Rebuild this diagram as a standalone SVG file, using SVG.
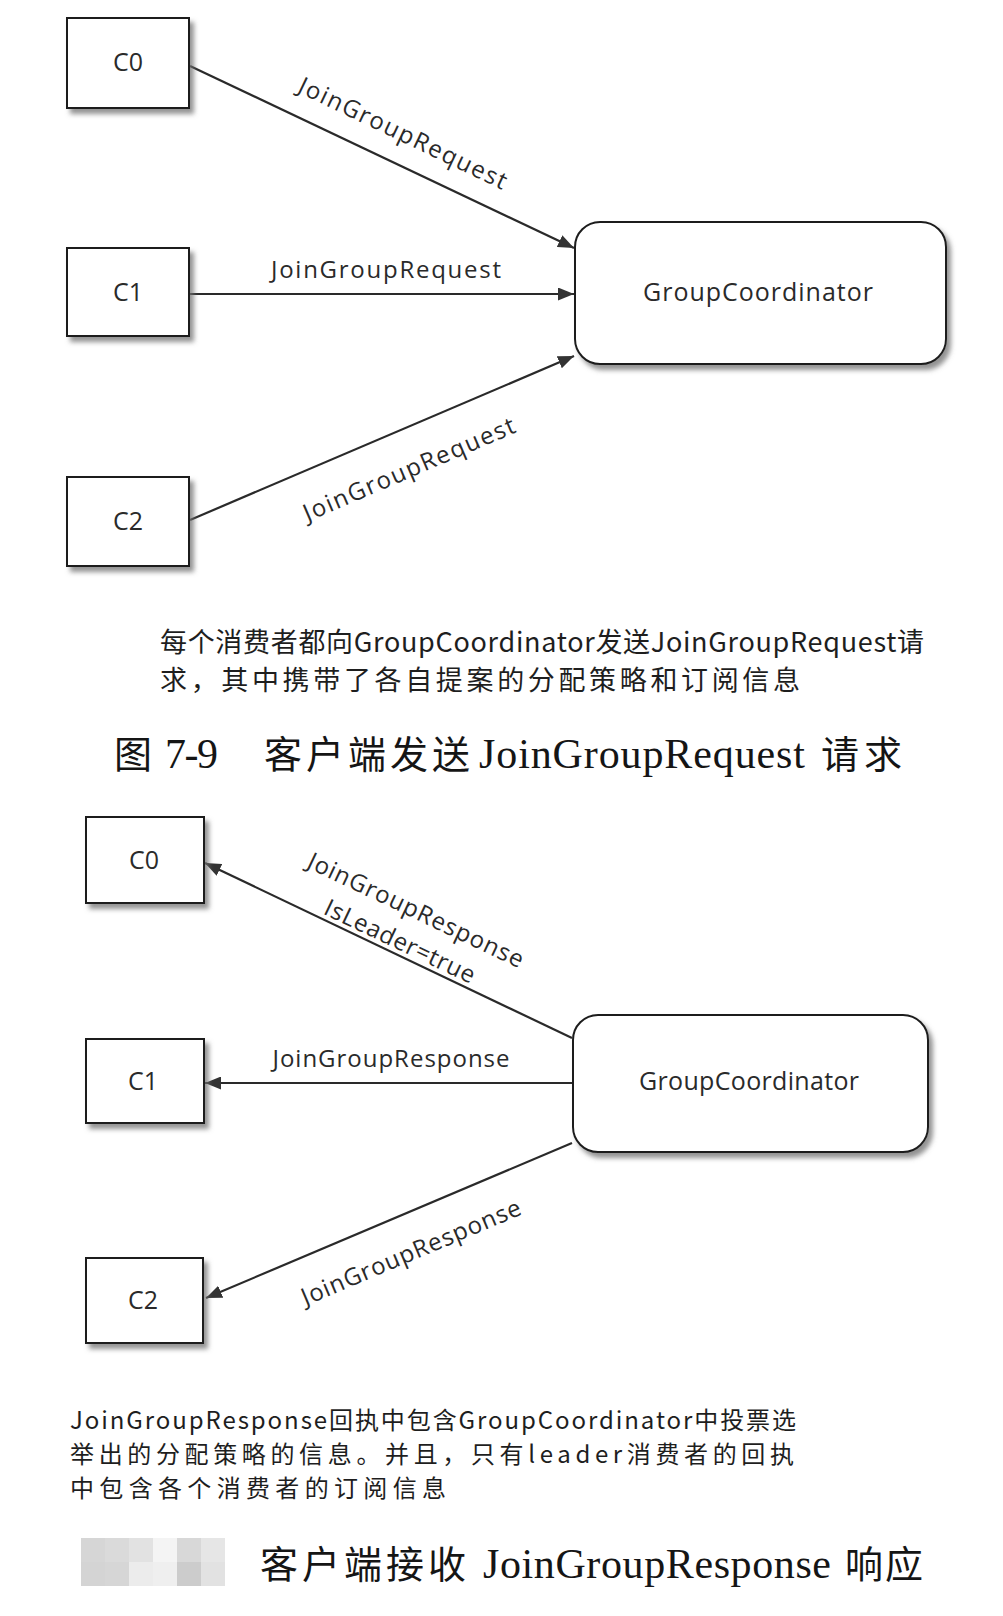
<svg xmlns="http://www.w3.org/2000/svg" width="1003" height="1616" viewBox="0 0 1003 1616">
  <style>
    .box { fill: #ffffff; stroke: #1e1e1e; stroke-width: 2; filter: url(#shadow); }
    .lbl { font-family: "Open Sans", "Liberation Sans", sans-serif; font-size: 24px; fill: #2a2a2a; }
    .nlbl { font-family: "Open Sans", "Liberation Sans", sans-serif; font-size: 25px; fill: #2a2a2a; text-anchor: middle; }
    .edge { stroke: #2a2a2a; stroke-width: 2.2; fill: none; marker-end: url(#arrow); }
    .cap { font-family: "Noto Sans CJK SC", "Open Sans", sans-serif; fill: #1e1e1e; }
    .ttl-cjk { font-family: "Noto Sans CJK SC", serif; font-size: 38px; fill: #151515; }
    .ttl-lat { font-family: "Liberation Serif", "Noto Sans CJK SC", serif; font-size: 42px; fill: #151515; }
  </style>
  <defs>
    <filter id="shadow" x="-10%" y="-10%" width="125%" height="130%">
      <feDropShadow dx="4" dy="5" stdDeviation="2.5" flood-color="#6e6e6e" flood-opacity="0.75"/>
    </filter>
    <marker id="arrow" markerUnits="userSpaceOnUse" markerWidth="17" markerHeight="13" refX="16" refY="6.5" orient="auto">
      <path d="M0,0 L16,6.5 L0,13 z" fill="#333333"/>
    </marker>
  </defs>
  <rect width="1003" height="1616" fill="#ffffff"/>

  <!-- Connectors -->
  <g id="connectors">
    <path class="edge" d="M190,66 L574,248"/>
    <path class="edge" d="M190,294 L574,294"/>
    <path class="edge" d="M190,520 L574,356"/>
    <path class="edge" d="M572,1038 L205,863"/>
    <path class="edge" d="M573,1083 L205,1083"/>
    <path class="edge" d="M572,1143 L206,1298"/>
  </g>

  <g id="edge-labels">
    <text class="lbl" text-anchor="middle" transform="translate(403,133) rotate(25.6)" y="8.5" textLength="228" lengthAdjust="spacing">JoinGroupRequest</text>
    <text class="lbl" text-anchor="middle" x="386" y="278" textLength="230" lengthAdjust="spacing">JoinGroupRequest</text>
    <text class="lbl" text-anchor="middle" transform="translate(409,469) rotate(-23.2)" y="8.5" textLength="228" lengthAdjust="spacing">JoinGroupRequest</text>
    <text class="lbl" text-anchor="middle" transform="translate(416,910) rotate(25.4)" y="8.5" textLength="236" lengthAdjust="spacing">JoinGroupResponse</text>
    <text class="lbl" text-anchor="middle" transform="translate(400,941) rotate(25.4)" y="8.5" textLength="164" lengthAdjust="spacing">IsLeader=true</text>
    <text class="lbl" text-anchor="middle" x="391" y="1067" textLength="237" lengthAdjust="spacing">JoinGroupResponse</text>
    <text class="lbl" text-anchor="middle" transform="translate(411,1252) rotate(-22.9)" y="8.5" textLength="236" lengthAdjust="spacing">JoinGroupResponse</text>
  </g>

  <!-- Top diagram nodes -->
  <g id="top-c0">
    <rect class="box" x="67" y="18" width="122" height="90"/>
    <text class="nlbl" x="128" y="71">C0</text>
  </g>
  <g id="top-c1">
    <rect class="box" x="67" y="248" width="122" height="88"/>
    <text class="nlbl" x="128" y="301">C1</text>
  </g>
  <g id="top-c2">
    <rect class="box" x="67" y="477" width="122" height="89"/>
    <text class="nlbl" x="128" y="530">C2</text>
  </g>
  <g id="top-gc">
    <rect class="box" x="575" y="222" width="371" height="142" rx="25" ry="25"/>
    <text class="nlbl" x="758" y="301" textLength="230" lengthAdjust="spacing">GroupCoordinator</text>
  </g>

  <g id="caption-1">
    <text class="cap" font-size="27" x="160" y="652" textLength="764" lengthAdjust="spacing">每个消费者都向GroupCoordinator发送JoinGroupRequest请</text>
    <text class="cap" font-size="27" x="160" y="690" textLength="640" lengthAdjust="spacing">求，其中携带了各自提案的分配策略和订阅信息</text>
  </g>

  <g id="title-1">
    <text class="ttl-cjk" x="114" y="768">图</text>
    <text class="ttl-lat" x="165" y="768" textLength="53" lengthAdjust="spacing">7-9</text>
    <text class="ttl-cjk" x="264" y="768" textLength="206" lengthAdjust="spacing">客户端发送</text>
    <text class="ttl-lat" x="479" y="768" textLength="326" lengthAdjust="spacing">JoinGroupRequest</text>
    <text class="ttl-cjk" x="821" y="768" textLength="81" lengthAdjust="spacing">请求</text>
  </g>

  <!-- Bottom diagram nodes -->
  <g id="bottom-c0">
    <rect class="box" x="86" y="817" width="118" height="86"/>
    <text class="nlbl" x="144" y="869">C0</text>
  </g>
  <g id="bottom-c1">
    <rect class="box" x="86" y="1039" width="118" height="84"/>
    <text class="nlbl" x="143" y="1090">C1</text>
  </g>
  <g id="bottom-c2">
    <rect class="box" x="86" y="1258" width="117" height="85"/>
    <text class="nlbl" x="143" y="1309">C2</text>
  </g>
  <g id="bottom-gc">
    <rect class="box" x="573" y="1015" width="355" height="137" rx="25" ry="25"/>
    <text class="nlbl" x="749" y="1090" textLength="220" lengthAdjust="spacing">GroupCoordinator</text>
  </g>

  <g id="caption-2">
    <text class="cap" font-size="24" x="70" y="1429" textLength="726" lengthAdjust="spacing">JoinGroupResponse回执中包含GroupCoordinator中投票选</text>
    <text class="cap" font-size="24" x="70" y="1463" textLength="724" lengthAdjust="spacing">举出的分配策略的信息。并且，只有leader消费者的回执</text>
    <text class="cap" font-size="24" x="70" y="1497" textLength="376" lengthAdjust="spacing">中包含各个消费者的订阅信息</text>
  </g>

  <g id="mosaic">
    <rect x="81" y="1538" width="24" height="24" fill="#d6d6d6"/>
    <rect x="105" y="1538" width="24" height="24" fill="#dadada"/>
    <rect x="129" y="1538" width="24" height="24" fill="#e2e2e2"/>
    <rect x="153" y="1538" width="24" height="24" fill="#f4f4f4"/>
    <rect x="177" y="1538" width="24" height="24" fill="#d8d8d8"/>
    <rect x="201" y="1538" width="24" height="24" fill="#e6e6e6"/>
    <rect x="81" y="1562" width="24" height="24" fill="#d4d4d4"/>
    <rect x="105" y="1562" width="24" height="24" fill="#d6d6d6"/>
    <rect x="129" y="1562" width="24" height="24" fill="#ececec"/>
    <rect x="153" y="1562" width="24" height="24" fill="#efefef"/>
    <rect x="177" y="1562" width="24" height="24" fill="#cccccc"/>
    <rect x="201" y="1562" width="24" height="24" fill="#e2e2e2"/>
  </g>

  <g id="title-2">
    <text class="ttl-cjk" x="260" y="1578" textLength="206" lengthAdjust="spacing">客户端接收</text>
    <text class="ttl-lat" x="483" y="1578" textLength="348" lengthAdjust="spacing">JoinGroupResponse</text>
    <text class="ttl-cjk" x="845" y="1578" textLength="78" lengthAdjust="spacing">响应</text>
  </g>
</svg>
